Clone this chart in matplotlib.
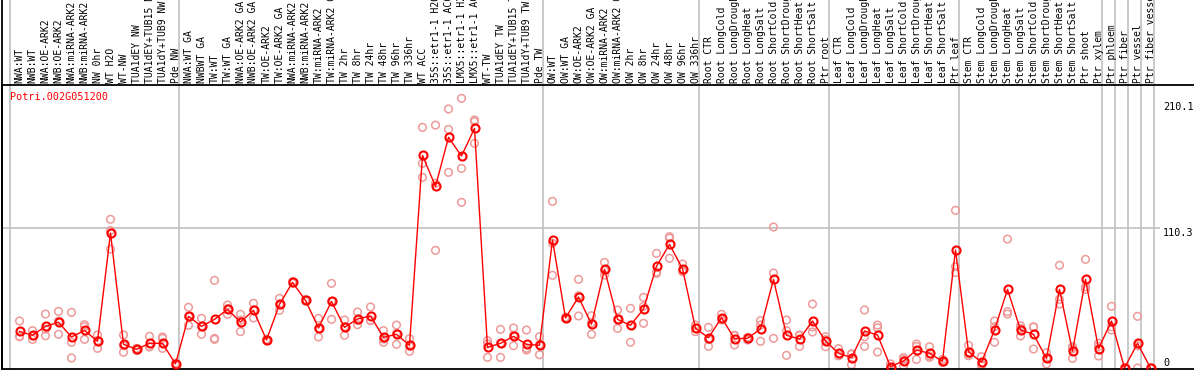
import numpy as np
import matplotlib
matplotlib.use("Agg")
import matplotlib.pyplot as plt

gene = "Potri.002G051200"

labels = [
    "NWA:WT", "NWB:WT", "NWA:OE-ARK2", "NWB:OE-ARK2", "NWA:miRNA-ARK2", "NWB:miRNA-ARK2",
    "NW 0hr", "WT H2O", "WT-NW", "TUA1dEY NW", "TUA1dEY+TUB15 NW", "TUA1dY+TUB9 NW", "Pde NW",
    "NWA:WT GA", "NWBWT GA", "TW:WT", "TW:WT GA", "NWA:OE-ARK2 GA", "NWB:OE-ARK2 GA",
    "TW:OE-ARK2", "TW:OE-ARK2 GA", "NWA:miRNA-ARK2", "NWB:miRNA-ARK2", "TW:miRNA-ARK2",
    "TW:miRNA-ARK2 GA", "TW 2hr", "TW 8hr", "TW 24hr", "TW 48hr", "TW 96hr", "TW 336hr",
    "WT ACC", "35S::etr1-1 H2O", "35S::etr1-1 ACC", "LMX5::etr1-1 H2O", "LMX5::etr1-1 ACC",
    "WT-TW", "TUA1dEY TW", "TUA1dEY+TUB15 TW", "TUA1dY+TUB9 TW", "Pde TW",
    "OW:WT", "OW:WT GA", "OW:OE-ARK2", "OW:OE-ARK2 GA", "OW:miRNA-ARK2", "OW:miRNA-ARK2 GA",
    "OW 2hr", "OW 8hr", "OW 24hr", "OW 48hr", "OW 96hr", "OW 336hr",
    "Root CTR", "Root LongCold", "Root LongDrought", "Root LongHeat", "Root LongSalt",
    "Root ShortCold", "Root ShortDrought", "Root ShortHeat", "Root ShortSalt", "Ptr root",
    "Leaf CTR", "Leaf LongCold", "Leaf LongDrought", "Leaf LongHeat", "Leaf LongSalt",
    "Leaf ShortCold", "Leaf ShortDrought", "Leaf ShortHeat", "Leaf ShortSalt", "Ptr leaf",
    "Stem CTR", "Stem LongCold", "Stem LongDrought", "Stem LongHeat", "Stem LongSalt",
    "Stem ShortCold", "Stem ShortDrought", "Stem ShortHeat", "Stem ShortSalt", "Ptr shoot",
    "Ptr xylem", "Ptr phloem", "Ptr fiber", "Ptr vessel", "Ptr fiber vessel",
]

# first sample index of each group (plus the end)
group_starts = [0, 13, 41, 53, 63, 73, 84, 85, 86, 87, 88]

means = [
    28.9, 25.8, 32.9, 36.1, 24.5, 29.7, 21.1, 106.6, 18.7, 14.7, 19.5, 19.5, 3.2,
    40.8, 32.9, 38.4, 46.3, 36.3, 45.5, 22.1, 50.3, 67.6, 53.4, 31.6, 52.6, 32.1,
    38.7, 41.1, 24.2, 26.6, 17.9, 167.9, 143.4, 182.1, 167.4, 189.2, 16.3, 19.5,
    25.0, 18.7, 17.9,
    101.1, 39.5, 56.1, 34.5, 77.9, 38.4, 33.7, 46.6, 80.3, 97.6, 78.4, 31.3,
    23.9, 39.7, 23.2, 23.4, 30.8, 70.0, 25.8, 22.9, 37.1, 21.3,
    11.6, 8.2, 29.2, 26.1, 1.1, 5.5, 14.2, 11.6, 5.3, 93.2,
    12.9, 4.5, 30.0, 62.1, 30.0, 26.6, 7.6, 62.1, 13.2, 70.0, 15.3,
    37.1, 0.0, 19.5, 0.0,
]

replicates = [
    [37.1, 24.7, 24.9], [29.5, 22.6, 25.3], [42.6, 25.5, 30.6], [44.7, 26.6, 37.0],
    [43.9, 20.3, 7.9], [34.2, 32.6, 22.6], [26.1, 15.5, 21.6], [117.4, 93.9, 108.5],
    [26.1, 12.4, 17.6], [13.9, 14.7, 15.5], [25.0, 16.8, 16.7], [24.5, 23.4, 15.5],
    [3.2, 2.5, 3.9],
    [47.9, 33.7, 40.8], [39.2, 26.6, 32.9], [69.2, 23.4, 22.6], [49.7, 42.4, 46.8],
    [42.4, 28.7, 37.8], [51.1, 39.5, 46.0], [22.1, 21.5, 22.7], [55.0, 45.5, 50.3],
    [67.6, 67.0, 68.2], [53.4, 52.8, 54.0], [39.2, 24.5, 31.1], [66.8, 38.4, 52.6],
    [37.9, 25.8, 32.6], [44.2, 34.2, 37.7], [48.2, 37.4, 37.7], [29.5, 20.3, 22.8],
    [33.9, 18.7, 27.2], [23.2, 13.2, 17.3], [190.0, 161.6, 150.5], [191.8, 145.8, 92.9],
    [204.5, 188.4, 154.5], [212.9, 157.6, 130.8], [195.8, 194.5, 177.4], [21.6, 8.4, 19.0],
    [30.5, 8.4, 19.6], [31.6, 17.6, 25.8], [30.0, 15.5, 14.2], [24.7, 10.5, 18.4],
    [131.6, 73.2, 98.4], [39.5, 38.9, 40.1], [70.0, 41.1, 57.1], [41.3, 26.6, 35.6],
    [83.4, 73.4, 76.9], [45.8, 31.3, 38.1], [47.1, 20.3, 33.7], [55.8, 35.3, 48.7],
    [90.5, 74.7, 75.7], [103.7, 86.6, 102.5], [82.1, 76.1, 77.0], [33.9, 28.7, 31.3],
    [32.1, 17.1, 22.5], [42.4, 37.9, 38.8], [25.5, 18.2, 25.9], [24.2, 22.1, 23.9],
    [37.4, 21.1, 33.9], [111.3, 75.0, 23.4], [37.9, 10.0, 29.5], [26.1, 17.1, 25.5],
    [50.5, 28.4, 32.4], [24.7, 16.8, 22.4],
    [15.3, 9.7, 9.8], [10.8, 2.6, 11.2], [45.8, 17.1, 24.7], [33.9, 12.6, 31.8],
    [3.2, 0.0, 0.1], [8.2, 1.6, 6.7], [18.9, 6.8, 16.9], [16.8, 8.4, 9.6],
    [6.8, 4.5, 4.6], [124.5, 80.0, 75.3],
    [17.9, 9.7, 11.1], [8.9, 1.8, 2.8], [37.1, 20.3, 32.6], [101.8, 44.5, 42.6],
    [33.4, 25.3, 31.3], [32.6, 15.0, 32.2], [12.1, 3.2, 7.5], [81.1, 54.2, 50.5],
    [16.8, 7.6, 15.2], [85.8, 64.2, 62.1], [19.5, 9.5, 16.9],
    [48.7, 30.0, 32.6], [0.0, 0.0, 0.0], [40.8, 0.0, 17.6], [0.0, 0.0, 0.0],
]

ytick_values = [210.1, 110.3, 0]

mono = "DejaVu Sans Mono"
W, H = 1194, 370
fig = plt.figure(figsize=(W / 100, H / 100), dpi=100)
# axes box in pixels: left 2, top 85, bottom 369
ax = fig.add_axes([2 / W, 1 / H, 1 - 2 / W, 284 / H])

x = np.arange(len(means))
pitch = 13.0
ax.set_xlim(-17.5 / pitch, (W - 19.5) / pitch)
ypx = 1.2665
ax.set_ylim(-1 / ypx, 283 / ypx)

# group separators, running up through the label strip
for b in group_starts:
    ax.axvline(b - 9.5 / pitch, ymin=0, ymax=369 / 284, color="#c0c0c0",
               lw=1.2, clip_on=False, zorder=1)

ax.hlines(110.3, ax.get_xlim()[0], (1160 - 19.5) / pitch, color="#c0c0c0", lw=1.2, zorder=1)

rx = np.repeat(x, [len(r) for r in replicates])
ry = np.concatenate(replicates)
ax.scatter(rx, ry, s=30, facecolors="none", edgecolors="#ee9a9a", linewidths=1.1, zorder=2)
ax.plot(x, means, color="red", lw=1.0, marker="o", ms=5.8, mfc="none",
        mec="red", mew=1.5, zorder=3)

ax.text(8 / 1192, 1 - 7 / 284, gene, transform=ax.transAxes, color="red",
        family=mono, fontsize=7.3, va="top", ha="left")

ylab_x = (1163 - 19.5) / pitch
for v in ytick_values:
    ax.text(ylab_x, v, str(v), family=mono, fontsize=7.3, ha="left",
            va="bottom" if v == 0 else "top", zorder=4)

ax.xaxis.tick_top()
ax.set_xticks(x)
ax.set_xticklabels(labels, rotation=90, family=mono, fontsize=7.0, va="bottom", ha="center")
ax.tick_params(axis="x", length=0, pad=1.5)
ax.set_yticks([])

for side in ["left", "top", "bottom"]:
    ax.spines[side].set_color("black")
    ax.spines[side].set_linewidth(1.3)
ax.spines["right"].set_visible(False)
ax.axvline(ax.get_xlim()[0], ymin=0, ymax=369 / 284, color="black", lw=1.3, clip_on=False)

fig.savefig("out.png", dpi=100, facecolor="white")
